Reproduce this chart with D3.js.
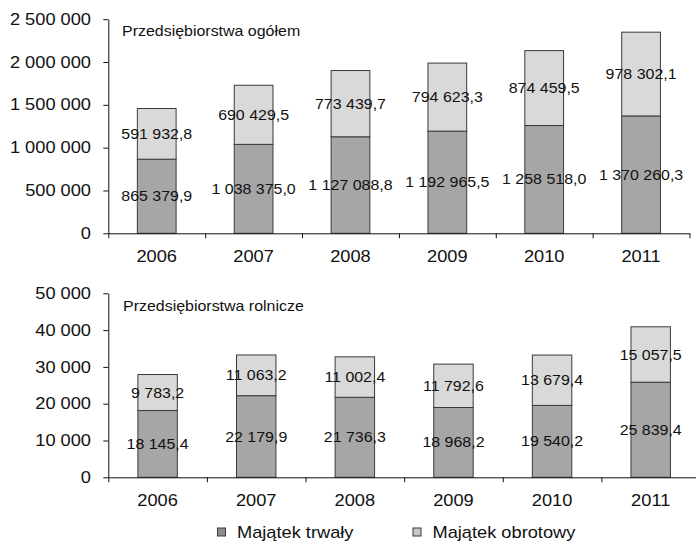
<!DOCTYPE html>
<html>
<head>
<meta charset="utf-8">
<script src="https://cdn.jsdelivr.net/npm/d3@7"></script>
<style>
  body { margin: 0; background: #fff; }
  svg { display: block; font-family: "Liberation Sans", Arial, sans-serif; }
</style>
</head>
<body>
<div id="chart"></div>
<script>
var years = ["2006", "2007", "2008", "2009", "2010", "2011"];

// Przedsiębiorstwa ogółem
var ogolemTrwaly   = [865379.9, 1038375.0, 1127088.8, 1192965.5, 1258518.0, 1370260.3];
var ogolemObrotowy = [591932.8, 690429.5, 773439.7, 794623.3, 874459.5, 978302.1];
var ogolemTicks    = [0, 500000, 1000000, 1500000, 2000000, 2500000];

// Przedsiębiorstwa rolnicze
var rolneTrwaly   = [18145.4, 22179.9, 21736.3, 18968.2, 19540.2, 25839.4];
var rolneObrotowy = [9783.2, 11063.2, 11002.4, 11792.6, 13679.4, 15057.5];
var rolneTicks    = [0, 10000, 20000, 30000, 40000, 50000];

var seriesNames = ["Majątek trwały", "Majątek obrotowy"];
var colors = ["#a6a6a6", "#d9d9d9"];

var width = 696, height = 543;
var stretch = 1.14; // text in the picture is a bit wider than normal

var pl = d3.formatLocale({decimal: ",", thousands: " ", grouping: [3], currency: ["", " zł"]});
var fmtAxis = pl.format(",.0f");
var fmtLabel = pl.format(",.1f");

var svg = d3.select("#chart").append("svg")
    .attr("width", width)
    .attr("height", height);

function drawPanel(opts) {
    var g = svg.append("g");

    var x = d3.scaleBand()
        .domain(years)
        .range([opts.x0, opts.x1])
        .paddingInner(0.6)
        .paddingOuter(0.3);

    var y = d3.scaleLinear()
        .domain([0, d3.max(opts.ticks)])
        .range([opts.yBottom, opts.yTop]);

    var rows = years.map(function(yr, i) {
        return {year: yr, trwaly: opts.trwaly[i], obrotowy: opts.obrotowy[i]};
    });
    var stacked = d3.stack().keys(["trwaly", "obrotowy"])(rows);

    // bars
    stacked.forEach(function(layer, k) {
        g.append("g").selectAll("rect")
            .data(layer)
            .join("rect")
            .attr("x", function(d) { return x(d.data.year); })
            .attr("width", x.bandwidth())
            .attr("y", function(d) { return y(d[1]); })
            .attr("height", function(d) { return y(d[0]) - y(d[1]); })
            .attr("fill", colors[k])
            .attr("stroke", "#3a3a3a")
            .attr("stroke-width", 1);
    });

    // value labels
    stacked.forEach(function(layer, k) {
        g.append("g").selectAll("text")
            .data(layer)
            .join("text")
            .attr("transform", function(d) {
                var cx = x(d.data.year) + x.bandwidth() / 2;
                var cy = (y(d[0]) + y(d[1])) / 2;
                return "translate(" + cx + "," + cy + ") scale(" + stretch + ",1)";
            })
            .attr("text-anchor", "middle")
            .attr("dy", "0.36em")
            .attr("font-size", "14px")
            .attr("fill", "#111")
            .text(function(d) { return fmtLabel(d[1] - d[0]); });
    });

    // y axis
    var yAxis = g.append("g")
        .attr("transform", "translate(" + opts.x0 + ",0)")
        .call(d3.axisLeft(y).tickValues(opts.ticks).tickFormat(fmtAxis).tickSize(5).tickSizeOuter(0));
    yAxis.selectAll("text")
        .attr("font-size", "16px")
        .attr("font-family", "Liberation Sans, Arial, sans-serif")
        .attr("fill", "#111")
        .attr("x", -17.3 / stretch)
        .attr("transform", "scale(" + stretch + ",1)");

    // x axis: boundary ticks
    var xb = d3.scaleLinear().domain([0, years.length]).range([opts.x0, opts.x1]);
    g.append("g")
        .attr("transform", "translate(0," + opts.yBottom + ")")
        .call(d3.axisBottom(xb).tickValues(d3.range(years.length + 1)).tickFormat("").tickSize(5).tickSizeOuter(0));

    // x labels
    g.append("g").selectAll("text")
        .data(years)
        .join("text")
        .attr("transform", function(d) {
            return "translate(" + (x(d) + x.bandwidth() / 2) + "," + (opts.yBottom + 28.7) + ") scale(" + stretch + ",1)";
        })
        .attr("text-anchor", "middle")
        .attr("font-size", "16px")
        .attr("fill", "#111")
        .text(function(d) { return d; });

    g.selectAll(".domain").attr("stroke", "#111");
    g.selectAll(".tick line").attr("stroke", "#111");

    // panel title
    g.append("text")
        .attr("transform", "translate(" + opts.titleX + "," + opts.titleY + ") scale(" + stretch + ",1)")
        .attr("font-size", "14px")
        .attr("fill", "#111")
        .text(opts.title);
}

drawPanel({
    title: "Przedsiębiorstwa ogółem",
    trwaly: ogolemTrwaly, obrotowy: ogolemObrotowy, ticks: ogolemTicks,
    x0: 108.3, x1: 689.5, yTop: 19.2, yBottom: 233.3,
    titleX: 122, titleY: 36
});

drawPanel({
    title: "Przedsiębiorstwa rolnicze",
    trwaly: rolneTrwaly, obrotowy: rolneObrotowy, ticks: rolneTicks,
    x0: 108.3, x1: 700, yTop: 293.3, yBottom: 477.3,
    titleX: 123, titleY: 311
});

// legend
var legendX = [217.5, 413];
var legend = svg.append("g").selectAll("g")
    .data(seriesNames)
    .join("g")
    .attr("transform", function(d, i) { return "translate(" + legendX[i] + ",528)"; });

legend.append("rect")
    .attr("width", 8)
    .attr("height", 8)
    .attr("fill", function(d, i) { return i === 0 ? "#8c8c8c" : "#c8c8c8"; })
    .attr("stroke", "#3a3a3a")
    .attr("stroke-width", 1);

legend.append("text")
    .attr("transform", "translate(19.5,9.5) scale(" + stretch + ",1)")
    .attr("font-size", "16px")
    .attr("fill", "#111")
    .text(function(d) { return d; });
</script>
</body>
</html>
